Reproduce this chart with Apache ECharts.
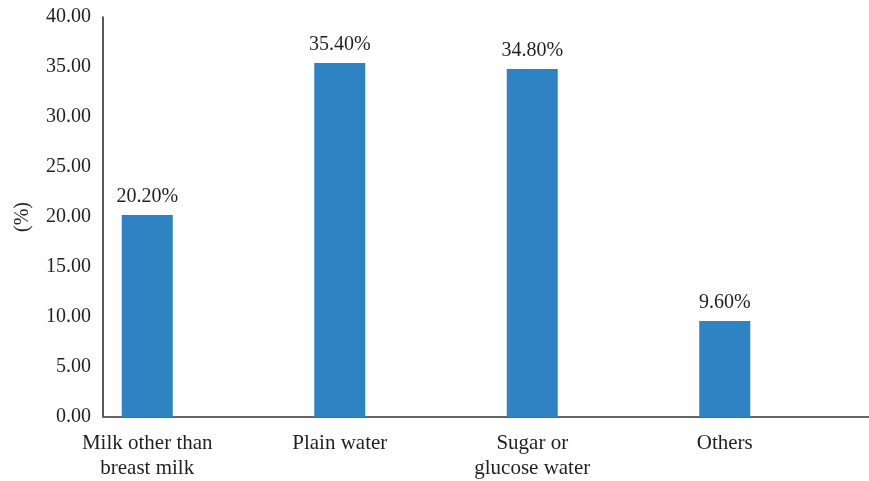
<!DOCTYPE html>
<html>
<head>
<meta charset="utf-8">
<script src="https://cdn.jsdelivr.net/npm/echarts@6/dist/echarts.min.js"></script>
<style>
  html, body { margin: 0; padding: 0; background: #fff; }
  #chart { width: 869px; height: 481px; }
</style>
</head>
<body>
<div id="chart"></div>
<script>
const categories = ['Milk other than\nbreast milk', 'Plain water', 'Sugar or\nglucose water', 'Others'];
const values = [20.2, 35.4, 34.8, 9.6];
const yMin = 0;
const yMax = 40;
const yStep = 5;

const font = 'Liberation Serif, Times New Roman, serif';
const textColor = '#231f20';

const chart = echarts.init(document.getElementById('chart'));
const option = {
  animation: false,
  grid: [
    { left: 103, right: 0, top: 17, bottom: 64 },
    { left: 51, right: 48, top: 17, bottom: 64 }
  ],
  xAxis: [
    {
      gridIndex: 0,
      type: 'category',
      data: [''],
      axisLine: { lineStyle: { color: '#666', width: 2 } },
      axisTick: { show: false },
      axisLabel: { show: false }
    },
    {
      gridIndex: 1,
      type: 'category',
      data: categories,
      axisLine: { show: false },
      axisTick: { show: false },
      axisLabel: {
        interval: 0,
        margin: 14,
        color: textColor,
        fontFamily: font,
        fontSize: 21,
        lineHeight: 25
      }
    }
  ],
  yAxis: [
    {
      gridIndex: 0,
      type: 'value',
      min: yMin,
      max: yMax,
      interval: yStep,
      name: '(%)',
      nameLocation: 'middle',
      nameRotate: 90,
      nameGap: 70,
      nameTextStyle: { color: textColor, fontFamily: font, fontSize: 20 },
      axisLine: { show: true, lineStyle: { color: '#222', width: 1.5 } },
      axisTick: { show: false },
      splitLine: { show: false },
      axisLabel: {
        margin: 12,
        color: textColor,
        fontFamily: font,
        fontSize: 20,
        formatter: v => v.toFixed(2)
      }
    },
    {
      gridIndex: 1,
      type: 'value',
      min: yMin,
      max: yMax,
      interval: yStep,
      show: false,
      splitLine: { show: false }
    }
  ],
  series: [
    {
      type: 'bar',
      xAxisIndex: 1,
      yAxisIndex: 1,
      data: values,
      barWidth: 51,
      itemStyle: { color: '#2e84c2' },
      label: {
        show: true,
        position: 'top',
        distance: 8,
        color: textColor,
        fontFamily: font,
        fontSize: 20,
        formatter: p => p.value.toFixed(2) + '%'
      }
    }
  ]
};
chart.setOption(option);
</script>
</body>
</html>
